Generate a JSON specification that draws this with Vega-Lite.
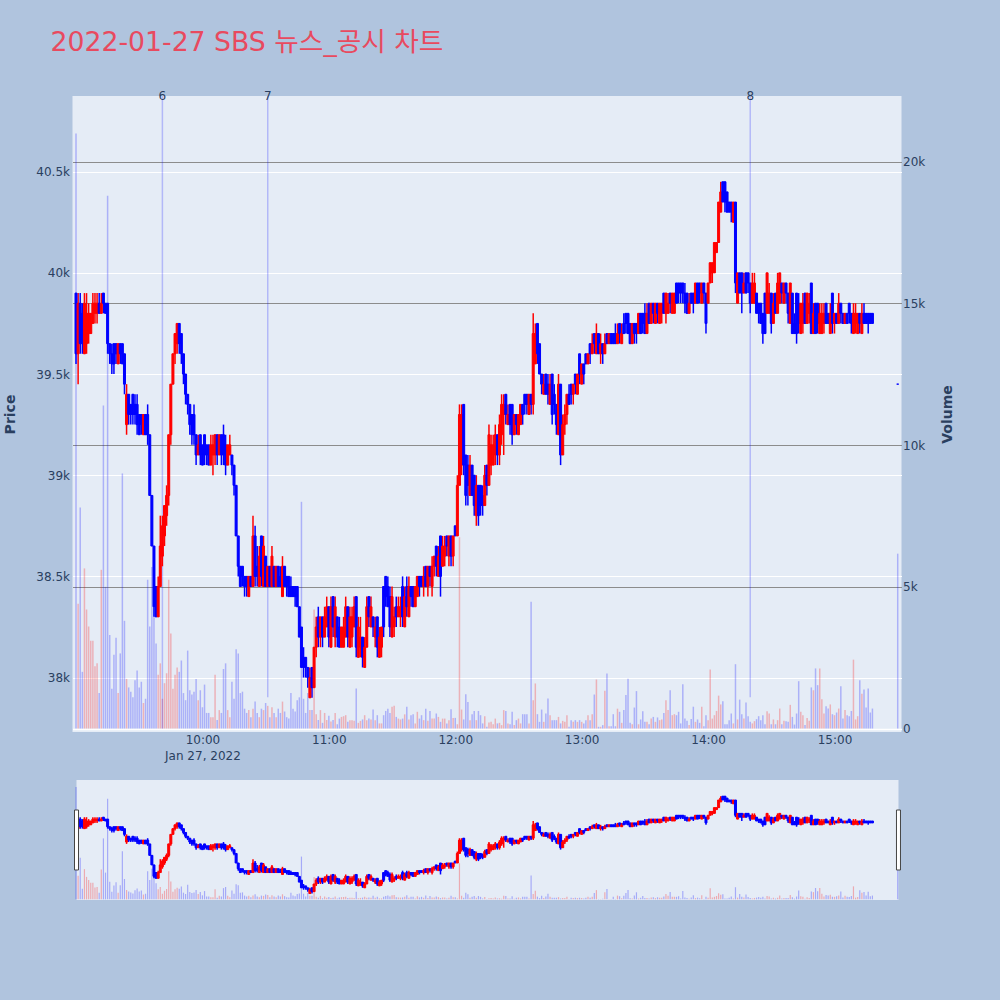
{
"$schema": "https://vega.github.io/schema/vega-lite/v6.json",
"background": "#B0C4DE",
"padding": {"left": 2.5, "top": 30, "right": 50, "bottom": 110},
"title": {"text": "2022-01-27 SBS 뉴스_공시 차트", "anchor": "start", "frame": "group", "dx": -22, "offset": 33, "fontSize": 26.7, "font": "DejaVu Sans, Noto Sans CJK KR", "fontWeight": "normal", "color": "#E84A5F"},
"config": {"font": "DejaVu Sans", "view": {"stroke": null}, "axis": {"domain": false, "ticks": false, "labelFont": "DejaVu Sans", "titleFont": "DejaVu Sans", "labelColor": "#2a3f5f", "titleColor": "#2a3f5f", "labelFontSize": 12}, "text": {"font": "DejaVu Sans"}},
"datasets": {
"ev": [{"n":"6","t":"2022-01-27T09:41","lo":0},{"n":"7","t":"2022-01-27T10:31","lo":1100},{"n":"8","t":"2022-01-27T14:20","lo":1100}],
"k": [
{"t":"2022-01-27T09:00","o":39900,"h":39900,"l":39550,"c":39600,"v":21000},
{"t":"2022-01-27T09:01","o":39600,"h":39900,"l":39450,"c":39850,"v":4400},
{"t":"2022-01-27T09:02","o":39850,"h":39900,"l":39600,"c":39650,"v":7800},
{"t":"2022-01-27T09:03","o":39800,"h":39850,"l":39600,"c":39650,"v":2000},
{"t":"2022-01-27T09:04","o":39600,"h":39900,"l":39600,"c":39850,"v":5650},
{"t":"2022-01-27T09:05","o":39650,"h":39900,"l":39600,"c":39800,"v":4200},
{"t":"2022-01-27T09:06","o":39700,"h":39850,"l":39650,"c":39800,"v":3600},
{"t":"2022-01-27T09:07","o":39700,"h":39800,"l":39700,"c":39800,"v":3100},
{"t":"2022-01-27T09:08","o":39750,"h":39900,"l":39750,"c":39850,"v":3100},
{"t":"2022-01-27T09:09","o":39800,"h":39900,"l":39750,"c":39850,"v":2200},
{"t":"2022-01-27T09:10","o":39800,"h":39900,"l":39750,"c":39850,"v":2300},
{"t":"2022-01-27T09:11","o":39850,"h":39900,"l":39800,"c":39800,"v":1250},
{"t":"2022-01-27T09:12","o":39800,"h":39900,"l":39800,"c":39850,"v":5600},
{"t":"2022-01-27T09:13","o":39900,"h":39900,"l":39800,"c":39850,"v":11400},
{"t":"2022-01-27T09:14","o":39850,"h":39850,"l":39800,"c":39800,"v":5000},
{"t":"2022-01-27T09:15","o":39850,"h":39850,"l":39600,"c":39650,"v":18800},
{"t":"2022-01-27T09:16","o":39650,"h":39650,"l":39550,"c":39600,"v":3300},
{"t":"2022-01-27T09:17","o":39600,"h":39650,"l":39500,"c":39550,"v":1400},
{"t":"2022-01-27T09:18","o":39650,"h":39650,"l":39500,"c":39550,"v":2600},
{"t":"2022-01-27T09:19","o":39650,"h":39650,"l":39550,"c":39600,"v":3200},
{"t":"2022-01-27T09:20","o":39550,"h":39650,"l":39550,"c":39650,"v":1250},
{"t":"2022-01-27T09:21","o":39650,"h":39650,"l":39550,"c":39600,"v":2650},
{"t":"2022-01-27T09:22","o":39650,"h":39650,"l":39550,"c":39550,"v":9000},
{"t":"2022-01-27T09:23","o":39600,"h":39600,"l":39400,"c":39450,"v":3800},
{"t":"2022-01-27T09:24","o":39250,"h":39450,"l":39200,"c":39400,"v":1750},
{"t":"2022-01-27T09:25","o":39400,"h":39400,"l":39250,"c":39300,"v":1450},
{"t":"2022-01-27T09:26","o":39350,"h":39350,"l":39250,"c":39300,"v":1300},
{"t":"2022-01-27T09:27","o":39400,"h":39400,"l":39250,"c":39300,"v":1100},
{"t":"2022-01-27T09:28","o":39350,"h":39400,"l":39250,"c":39300,"v":1700},
{"t":"2022-01-27T09:29","o":39350,"h":39400,"l":39200,"c":39250,"v":2050},
{"t":"2022-01-27T09:30","o":39300,"h":39300,"l":39200,"c":39200,"v":1450},
{"t":"2022-01-27T09:31","o":39300,"h":39300,"l":39200,"c":39250,"v":1650},
{"t":"2022-01-27T09:32","o":39200,"h":39300,"l":39200,"c":39300,"v":900},
{"t":"2022-01-27T09:33","o":39300,"h":39300,"l":39200,"c":39200,"v":1050},
{"t":"2022-01-27T09:34","o":39300,"h":39350,"l":39150,"c":39200,"v":5250},
{"t":"2022-01-27T09:35","o":39200,"h":39200,"l":38900,"c":38900,"v":3600},
{"t":"2022-01-27T09:36","o":38900,"h":38900,"l":38650,"c":38650,"v":5700},
{"t":"2022-01-27T09:37","o":38650,"h":38650,"l":38300,"c":38350,"v":4250},
{"t":"2022-01-27T09:38","o":38450,"h":38450,"l":38300,"c":38300,"v":3000},
{"t":"2022-01-27T09:39","o":38300,"h":38500,"l":38300,"c":38450,"v":1900},
{"t":"2022-01-27T09:40","o":38450,"h":38800,"l":38450,"c":38650,"v":2300},
{"t":"2022-01-27T09:41","o":38600,"h":38800,"l":38550,"c":38750,"v":1050},
{"t":"2022-01-27T09:42","o":38700,"h":38850,"l":38650,"c":38850,"v":1600},
{"t":"2022-01-27T09:43","o":38800,"h":38950,"l":38750,"c":38900,"v":1950},
{"t":"2022-01-27T09:44","o":38900,"h":39200,"l":38850,"c":39200,"v":5250},
{"t":"2022-01-27T09:45","o":39200,"h":39450,"l":39150,"c":39450,"v":3350},
{"t":"2022-01-27T09:46","o":39450,"h":39600,"l":39450,"c":39600,"v":1400},
{"t":"2022-01-27T09:47","o":39600,"h":39700,"l":39550,"c":39700,"v":1900},
{"t":"2022-01-27T09:48","o":39650,"h":39750,"l":39600,"c":39750,"v":2150},
{"t":"2022-01-27T09:49","o":39750,"h":39750,"l":39600,"c":39650,"v":2000},
{"t":"2022-01-27T09:50","o":39700,"h":39700,"l":39550,"c":39600,"v":2400},
{"t":"2022-01-27T09:51","o":39600,"h":39600,"l":39450,"c":39500,"v":1250},
{"t":"2022-01-27T09:52","o":39500,"h":39500,"l":39350,"c":39400,"v":1000},
{"t":"2022-01-27T09:53","o":39400,"h":39400,"l":39300,"c":39350,"v":2750},
{"t":"2022-01-27T09:54","o":39350,"h":39350,"l":39200,"c":39250,"v":1350},
{"t":"2022-01-27T09:55","o":39300,"h":39300,"l":39150,"c":39200,"v":1200},
{"t":"2022-01-27T09:56","o":39300,"h":39350,"l":39150,"c":39200,"v":1300},
{"t":"2022-01-27T09:57","o":39200,"h":39200,"l":39050,"c":39100,"v":1750},
{"t":"2022-01-27T09:58","o":39100,"h":39200,"l":39100,"c":39150,"v":1000},
{"t":"2022-01-27T09:59","o":39200,"h":39200,"l":39050,"c":39100,"v":1350},
{"t":"2022-01-27T10:00","o":39150,"h":39150,"l":39050,"c":39050,"v":750},
{"t":"2022-01-27T10:01","o":39200,"h":39200,"l":39050,"c":39100,"v":1550},
{"t":"2022-01-27T10:02","o":39150,"h":39150,"l":39050,"c":39100,"v":550},
{"t":"2022-01-27T10:03","o":39150,"h":39150,"l":39050,"c":39050,"v":550},
{"t":"2022-01-27T10:04","o":39050,"h":39200,"l":39050,"c":39150,"v":400},
{"t":"2022-01-27T10:05","o":39100,"h":39200,"l":39000,"c":39150,"v":400},
{"t":"2022-01-27T10:06","o":39100,"h":39200,"l":39050,"c":39200,"v":1900},
{"t":"2022-01-27T10:07","o":39200,"h":39200,"l":39050,"c":39100,"v":300},
{"t":"2022-01-27T10:08","o":39100,"h":39200,"l":39100,"c":39200,"v":650},
{"t":"2022-01-27T10:09","o":39200,"h":39200,"l":39050,"c":39100,"v":550},
{"t":"2022-01-27T10:10","o":39200,"h":39250,"l":39050,"c":39100,"v":2100},
{"t":"2022-01-27T10:11","o":39150,"h":39200,"l":39000,"c":39050,"v":2300},
{"t":"2022-01-27T10:12","o":39050,"h":39150,"l":39050,"c":39150,"v":650},
{"t":"2022-01-27T10:13","o":39100,"h":39200,"l":39100,"c":39150,"v":400},
{"t":"2022-01-27T10:14","o":39100,"h":39100,"l":39000,"c":39050,"v":1650},
{"t":"2022-01-27T10:15","o":39050,"h":39050,"l":38900,"c":38950,"v":1050},
{"t":"2022-01-27T10:16","o":38950,"h":38950,"l":38700,"c":38700,"v":2800},
{"t":"2022-01-27T10:17","o":38700,"h":38700,"l":38500,"c":38550,"v":2650},
{"t":"2022-01-27T10:18","o":38550,"h":38550,"l":38450,"c":38450,"v":1250},
{"t":"2022-01-27T10:19","o":38550,"h":38550,"l":38450,"c":38500,"v":1300},
{"t":"2022-01-27T10:20","o":38500,"h":38500,"l":38400,"c":38450,"v":700},
{"t":"2022-01-27T10:21","o":38500,"h":38500,"l":38400,"c":38450,"v":550},
{"t":"2022-01-27T10:22","o":38400,"h":38500,"l":38400,"c":38500,"v":650},
{"t":"2022-01-27T10:23","o":38500,"h":38500,"l":38450,"c":38450,"v":400},
{"t":"2022-01-27T10:24","o":38450,"h":38800,"l":38450,"c":38700,"v":700},
{"t":"2022-01-27T10:25","o":38700,"h":38750,"l":38450,"c":38500,"v":950},
{"t":"2022-01-27T10:26","o":38550,"h":38650,"l":38450,"c":38500,"v":550},
{"t":"2022-01-27T10:27","o":38450,"h":38650,"l":38450,"c":38600,"v":400},
{"t":"2022-01-27T10:28","o":38700,"h":38700,"l":38450,"c":38500,"v":700},
{"t":"2022-01-27T10:29","o":38450,"h":38700,"l":38450,"c":38650,"v":650},
{"t":"2022-01-27T10:30","o":38600,"h":38600,"l":38450,"c":38450,"v":900},
{"t":"2022-01-27T10:31","o":38450,"h":38550,"l":38450,"c":38550,"v":800},
{"t":"2022-01-27T10:32","o":38550,"h":38550,"l":38450,"c":38450,"v":400},
{"t":"2022-01-27T10:33","o":38450,"h":38650,"l":38450,"c":38600,"v":750},
{"t":"2022-01-27T10:34","o":38550,"h":38550,"l":38450,"c":38450,"v":550},
{"t":"2022-01-27T10:35","o":38450,"h":38550,"l":38450,"c":38550,"v":400},
{"t":"2022-01-27T10:36","o":38550,"h":38550,"l":38450,"c":38450,"v":700},
{"t":"2022-01-27T10:37","o":38500,"h":38550,"l":38450,"c":38450,"v":550},
{"t":"2022-01-27T10:38","o":38400,"h":38600,"l":38400,"c":38550,"v":950},
{"t":"2022-01-27T10:39","o":38550,"h":38550,"l":38450,"c":38450,"v":600},
{"t":"2022-01-27T10:40","o":38500,"h":38500,"l":38400,"c":38450,"v":400},
{"t":"2022-01-27T10:41","o":38500,"h":38500,"l":38400,"c":38400,"v":350},
{"t":"2022-01-27T10:42","o":38450,"h":38500,"l":38400,"c":38400,"v":1250},
{"t":"2022-01-27T10:43","o":38450,"h":38450,"l":38400,"c":38400,"v":700},
{"t":"2022-01-27T10:44","o":38450,"h":38450,"l":38350,"c":38400,"v":600},
{"t":"2022-01-27T10:45","o":38450,"h":38450,"l":38350,"c":38350,"v":1000},
{"t":"2022-01-27T10:46","o":38350,"h":38350,"l":38200,"c":38200,"v":1100},
{"t":"2022-01-27T10:47","o":38250,"h":38250,"l":38050,"c":38050,"v":8000},
{"t":"2022-01-27T10:48","o":38100,"h":38150,"l":38000,"c":38050,"v":1050},
{"t":"2022-01-27T10:49","o":38100,"h":38100,"l":38000,"c":38050,"v":550},
{"t":"2022-01-27T10:50","o":38050,"h":38050,"l":37950,"c":38000,"v":1250},
{"t":"2022-01-27T10:51","o":37900,"h":38050,"l":37900,"c":38000,"v":650},
{"t":"2022-01-27T10:52","o":38050,"h":38050,"l":37900,"c":37950,"v":650},
{"t":"2022-01-27T10:53","o":37950,"h":38150,"l":37950,"c":38150,"v":4200},
{"t":"2022-01-27T10:54","o":38150,"h":38300,"l":38100,"c":38250,"v":500},
{"t":"2022-01-27T10:55","o":38300,"h":38350,"l":38150,"c":38200,"v":300},
{"t":"2022-01-27T10:56","o":38200,"h":38300,"l":38150,"c":38300,"v":650},
{"t":"2022-01-27T10:57","o":38300,"h":38300,"l":38150,"c":38200,"v":200},
{"t":"2022-01-27T10:58","o":38200,"h":38350,"l":38200,"c":38300,"v":550},
{"t":"2022-01-27T10:59","o":38250,"h":38400,"l":38250,"c":38350,"v":300},
{"t":"2022-01-27T11:00","o":38350,"h":38350,"l":38150,"c":38200,"v":450},
{"t":"2022-01-27T11:01","o":38150,"h":38400,"l":38150,"c":38350,"v":250},
{"t":"2022-01-27T11:02","o":38400,"h":38400,"l":38200,"c":38250,"v":300},
{"t":"2022-01-27T11:03","o":38200,"h":38400,"l":38150,"c":38350,"v":550},
{"t":"2022-01-27T11:04","o":38300,"h":38300,"l":38150,"c":38200,"v":150},
{"t":"2022-01-27T11:05","o":38250,"h":38300,"l":38150,"c":38150,"v":350},
{"t":"2022-01-27T11:06","o":38150,"h":38250,"l":38150,"c":38250,"v":410},
{"t":"2022-01-27T11:07","o":38150,"h":38300,"l":38150,"c":38250,"v":435},
{"t":"2022-01-27T11:08","o":38200,"h":38400,"l":38200,"c":38350,"v":470},
{"t":"2022-01-27T11:09","o":38350,"h":38350,"l":38150,"c":38200,"v":235},
{"t":"2022-01-27T11:10","o":38150,"h":38350,"l":38150,"c":38300,"v":295},
{"t":"2022-01-27T11:11","o":38200,"h":38350,"l":38150,"c":38300,"v":295},
{"t":"2022-01-27T11:12","o":38250,"h":38400,"l":38250,"c":38350,"v":270},
{"t":"2022-01-27T11:13","o":38400,"h":38400,"l":38100,"c":38150,"v":1410},
{"t":"2022-01-27T11:14","o":38100,"h":38300,"l":38100,"c":38250,"v":200},
{"t":"2022-01-27T11:15","o":38150,"h":38300,"l":38100,"c":38200,"v":270},
{"t":"2022-01-27T11:16","o":38200,"h":38200,"l":38050,"c":38100,"v":320},
{"t":"2022-01-27T11:17","o":38050,"h":38200,"l":38050,"c":38150,"v":470},
{"t":"2022-01-27T11:18","o":38150,"h":38400,"l":38150,"c":38350,"v":295},
{"t":"2022-01-27T11:19","o":38400,"h":38400,"l":38250,"c":38300,"v":350},
{"t":"2022-01-27T11:20","o":38250,"h":38400,"l":38250,"c":38350,"v":320},
{"t":"2022-01-27T11:21","o":38300,"h":38300,"l":38200,"c":38250,"v":670},
{"t":"2022-01-27T11:22","o":38200,"h":38300,"l":38150,"c":38250,"v":295},
{"t":"2022-01-27T11:23","o":38300,"h":38300,"l":38100,"c":38150,"v":470},
{"t":"2022-01-27T11:24","o":38100,"h":38250,"l":38100,"c":38200,"v":180},
{"t":"2022-01-27T11:25","o":38150,"h":38250,"l":38100,"c":38250,"v":180},
{"t":"2022-01-27T11:26","o":38450,"h":38450,"l":38200,"c":38250,"v":470},
{"t":"2022-01-27T11:27","o":38500,"h":38500,"l":38350,"c":38400,"v":620},
{"t":"2022-01-27T11:28","o":38450,"h":38500,"l":38350,"c":38350,"v":700},
{"t":"2022-01-27T11:29","o":38400,"h":38450,"l":38200,"c":38250,"v":550},
{"t":"2022-01-27T11:30","o":38200,"h":38450,"l":38200,"c":38400,"v":770},
{"t":"2022-01-27T11:31","o":38250,"h":38350,"l":38200,"c":38300,"v":800},
{"t":"2022-01-27T11:32","o":38350,"h":38400,"l":38250,"c":38300,"v":410},
{"t":"2022-01-27T11:33","o":38300,"h":38400,"l":38300,"c":38350,"v":350},
{"t":"2022-01-27T11:34","o":38300,"h":38400,"l":38250,"c":38350,"v":320},
{"t":"2022-01-27T11:35","o":38450,"h":38500,"l":38250,"c":38300,"v":350},
{"t":"2022-01-27T11:36","o":38250,"h":38450,"l":38250,"c":38400,"v":500},
{"t":"2022-01-27T11:37","o":38450,"h":38500,"l":38300,"c":38350,"v":770},
{"t":"2022-01-27T11:38","o":38300,"h":38500,"l":38300,"c":38450,"v":320},
{"t":"2022-01-27T11:39","o":38450,"h":38450,"l":38350,"c":38400,"v":470},
{"t":"2022-01-27T11:40","o":38450,"h":38450,"l":38350,"c":38350,"v":500},
{"t":"2022-01-27T11:41","o":38350,"h":38450,"l":38350,"c":38450,"v":180},
{"t":"2022-01-27T11:42","o":38400,"h":38500,"l":38400,"c":38500,"v":590},
{"t":"2022-01-27T11:43","o":38500,"h":38500,"l":38400,"c":38450,"v":350},
{"t":"2022-01-27T11:44","o":38500,"h":38500,"l":38450,"c":38450,"v":470},
{"t":"2022-01-27T11:45","o":38450,"h":38550,"l":38400,"c":38500,"v":295},
{"t":"2022-01-27T11:46","o":38550,"h":38550,"l":38450,"c":38450,"v":700},
{"t":"2022-01-27T11:47","o":38450,"h":38550,"l":38400,"c":38550,"v":270},
{"t":"2022-01-27T11:48","o":38550,"h":38550,"l":38450,"c":38500,"v":620},
{"t":"2022-01-27T11:49","o":38450,"h":38600,"l":38400,"c":38550,"v":350},
{"t":"2022-01-27T11:50","o":38550,"h":38600,"l":38500,"c":38600,"v":350},
{"t":"2022-01-27T11:51","o":38650,"h":38650,"l":38500,"c":38550,"v":530},
{"t":"2022-01-27T11:52","o":38500,"h":38650,"l":38500,"c":38600,"v":410},
{"t":"2022-01-27T11:53","o":38700,"h":38700,"l":38400,"c":38500,"v":235},
{"t":"2022-01-27T11:54","o":38550,"h":38700,"l":38550,"c":38650,"v":350},
{"t":"2022-01-27T11:55","o":38600,"h":38700,"l":38550,"c":38650,"v":350},
{"t":"2022-01-27T11:56","o":38700,"h":38700,"l":38600,"c":38650,"v":180},
{"t":"2022-01-27T11:57","o":38600,"h":38700,"l":38550,"c":38700,"v":295},
{"t":"2022-01-27T11:58","o":38700,"h":38700,"l":38550,"c":38600,"v":680},
{"t":"2022-01-27T11:59","o":38600,"h":38700,"l":38550,"c":38700,"v":375},
{"t":"2022-01-27T12:00","o":38750,"h":38750,"l":38700,"c":38700,"v":375},
{"t":"2022-01-27T12:01","o":38700,"h":39000,"l":38700,"c":38950,"v":150},
{"t":"2022-01-27T12:02","o":38950,"h":39350,"l":38950,"c":39300,"v":6750},
{"t":"2022-01-27T12:03","o":39050,"h":39350,"l":39000,"c":39300,"v":670},
{"t":"2022-01-27T12:04","o":39350,"h":39350,"l":39000,"c":39050,"v":320},
{"t":"2022-01-27T12:05","o":39100,"h":39100,"l":38850,"c":38900,"v":1210},
{"t":"2022-01-27T12:06","o":39050,"h":39100,"l":38850,"c":38950,"v":940},
{"t":"2022-01-27T12:07","o":38900,"h":39100,"l":38900,"c":39050,"v":295},
{"t":"2022-01-27T12:08","o":39050,"h":39050,"l":38900,"c":38900,"v":505},
{"t":"2022-01-27T12:09","o":39000,"h":39000,"l":38800,"c":38850,"v":620},
{"t":"2022-01-27T12:10","o":38800,"h":39000,"l":38750,"c":38950,"v":295},
{"t":"2022-01-27T12:11","o":38950,"h":38950,"l":38750,"c":38800,"v":620},
{"t":"2022-01-27T12:12","o":38950,"h":38950,"l":38800,"c":38850,"v":470},
{"t":"2022-01-27T12:13","o":38900,"h":38950,"l":38800,"c":38850,"v":180},
{"t":"2022-01-27T12:14","o":38850,"h":39050,"l":38850,"c":39000,"v":435},
{"t":"2022-01-27T12:15","o":39050,"h":39050,"l":38900,"c":38950,"v":60},
{"t":"2022-01-27T12:16","o":38950,"h":39250,"l":38950,"c":39200,"v":210},
{"t":"2022-01-27T12:17","o":39050,"h":39200,"l":39000,"c":39150,"v":235},
{"t":"2022-01-27T12:18","o":39050,"h":39200,"l":39050,"c":39150,"v":150},
{"t":"2022-01-27T12:19","o":39100,"h":39250,"l":39050,"c":39200,"v":350},
{"t":"2022-01-27T12:20","o":39200,"h":39200,"l":39050,"c":39100,"v":180},
{"t":"2022-01-27T12:21","o":39100,"h":39300,"l":39050,"c":39250,"v":200},
{"t":"2022-01-27T12:22","o":39200,"h":39400,"l":39150,"c":39350,"v":120},
{"t":"2022-01-27T12:23","o":39300,"h":39400,"l":39100,"c":39350,"v":650},
{"t":"2022-01-27T12:24","o":39400,"h":39400,"l":39250,"c":39300,"v":620},
{"t":"2022-01-27T12:25","o":39250,"h":39350,"l":39250,"c":39300,"v":180},
{"t":"2022-01-27T12:26","o":39350,"h":39350,"l":39200,"c":39250,"v":150},
{"t":"2022-01-27T12:27","o":39350,"h":39350,"l":39150,"c":39200,"v":590},
{"t":"2022-01-27T12:28","o":39200,"h":39300,"l":39200,"c":39300,"v":120},
{"t":"2022-01-27T12:29","o":39300,"h":39300,"l":39200,"c":39250,"v":295},
{"t":"2022-01-27T12:30","o":39200,"h":39300,"l":39200,"c":39300,"v":350},
{"t":"2022-01-27T12:31","o":39250,"h":39350,"l":39250,"c":39350,"v":180},
{"t":"2022-01-27T12:32","o":39350,"h":39350,"l":39250,"c":39300,"v":505},
{"t":"2022-01-27T12:33","o":39400,"h":39400,"l":39300,"c":39350,"v":505},
{"t":"2022-01-27T12:34","o":39400,"h":39400,"l":39300,"c":39350,"v":505},
{"t":"2022-01-27T12:35","o":39300,"h":39400,"l":39300,"c":39400,"v":180},
{"t":"2022-01-27T12:36","o":39400,"h":39400,"l":39300,"c":39350,"v":4470},
{"t":"2022-01-27T12:37","o":39350,"h":39800,"l":39300,"c":39700,"v":1000},
{"t":"2022-01-27T12:38","o":39550,"h":39750,"l":39550,"c":39700,"v":1590},
{"t":"2022-01-27T12:39","o":39750,"h":39750,"l":39550,"c":39600,"v":505},
{"t":"2022-01-27T12:40","o":39650,"h":39650,"l":39500,"c":39500,"v":235},
{"t":"2022-01-27T12:41","o":39500,"h":39500,"l":39400,"c":39450,"v":670},
{"t":"2022-01-27T12:42","o":39400,"h":39500,"l":39400,"c":39450,"v":235},
{"t":"2022-01-27T12:43","o":39500,"h":39500,"l":39400,"c":39400,"v":530},
{"t":"2022-01-27T12:44","o":39450,"h":39500,"l":39350,"c":39400,"v":1060},
{"t":"2022-01-27T12:45","o":39350,"h":39500,"l":39350,"c":39450,"v":470},
{"t":"2022-01-27T12:46","o":39500,"h":39500,"l":39250,"c":39300,"v":295},
{"t":"2022-01-27T12:47","o":39400,"h":39450,"l":39300,"c":39350,"v":295},
{"t":"2022-01-27T12:48","o":39350,"h":39350,"l":39200,"c":39250,"v":295},
{"t":"2022-01-27T12:49","o":39200,"h":39500,"l":39200,"c":39450,"v":410},
{"t":"2022-01-27T12:50","o":39450,"h":39450,"l":39050,"c":39100,"v":180},
{"t":"2022-01-27T12:51","o":39100,"h":39300,"l":39100,"c":39250,"v":270},
{"t":"2022-01-27T12:52","o":39250,"h":39350,"l":39200,"c":39300,"v":235},
{"t":"2022-01-27T12:53","o":39300,"h":39400,"l":39250,"c":39400,"v":470},
{"t":"2022-01-27T12:54","o":39400,"h":39450,"l":39350,"c":39350,"v":60},
{"t":"2022-01-27T12:55","o":39450,"h":39450,"l":39350,"c":39400,"v":295},
{"t":"2022-01-27T12:56","o":39400,"h":39450,"l":39350,"c":39450,"v":235},
{"t":"2022-01-27T12:57","o":39500,"h":39500,"l":39400,"c":39450,"v":295},
{"t":"2022-01-27T12:58","o":39400,"h":39500,"l":39400,"c":39500,"v":235},
{"t":"2022-01-27T12:59","o":39600,"h":39600,"l":39450,"c":39500,"v":295},
{"t":"2022-01-27T13:00","o":39450,"h":39550,"l":39450,"c":39550,"v":235},
{"t":"2022-01-27T13:01","o":39550,"h":39550,"l":39450,"c":39500,"v":180},
{"t":"2022-01-27T13:02","o":39600,"h":39600,"l":39550,"c":39550,"v":295},
{"t":"2022-01-27T13:03","o":39550,"h":39600,"l":39550,"c":39600,"v":470},
{"t":"2022-01-27T13:04","o":39650,"h":39650,"l":39550,"c":39600,"v":295},
{"t":"2022-01-27T13:05","o":39600,"h":39700,"l":39600,"c":39650,"v":505},
{"t":"2022-01-27T13:06","o":39700,"h":39700,"l":39600,"c":39650,"v":1200},
{"t":"2022-01-27T13:07","o":39600,"h":39750,"l":39600,"c":39700,"v":1730},
{"t":"2022-01-27T13:08","o":39700,"h":39700,"l":39600,"c":39600,"v":60},
{"t":"2022-01-27T13:09","o":39600,"h":39700,"l":39550,"c":39650,"v":60},
{"t":"2022-01-27T13:10","o":39650,"h":39650,"l":39550,"c":39600,"v":120},
{"t":"2022-01-27T13:11","o":39600,"h":39700,"l":39600,"c":39650,"v":1330},
{"t":"2022-01-27T13:12","o":39700,"h":39700,"l":39650,"c":39650,"v":1940},
{"t":"2022-01-27T13:13","o":39650,"h":39700,"l":39650,"c":39700,"v":80},
{"t":"2022-01-27T13:14","o":39700,"h":39700,"l":39650,"c":39650,"v":80},
{"t":"2022-01-27T13:15","o":39700,"h":39700,"l":39650,"c":39650,"v":505},
{"t":"2022-01-27T13:16","o":39700,"h":39750,"l":39650,"c":39650,"v":80},
{"t":"2022-01-27T13:17","o":39650,"h":39750,"l":39650,"c":39700,"v":700},
{"t":"2022-01-27T13:18","o":39750,"h":39750,"l":39650,"c":39700,"v":590},
{"t":"2022-01-27T13:19","o":39650,"h":39750,"l":39650,"c":39700,"v":200},
{"t":"2022-01-27T13:20","o":39750,"h":39800,"l":39700,"c":39700,"v":650},
{"t":"2022-01-27T13:21","o":39800,"h":39800,"l":39700,"c":39750,"v":1180},
{"t":"2022-01-27T13:22","o":39800,"h":39800,"l":39700,"c":39700,"v":1760},
{"t":"2022-01-27T13:23","o":39750,"h":39750,"l":39650,"c":39650,"v":200},
{"t":"2022-01-27T13:24","o":39650,"h":39750,"l":39650,"c":39750,"v":150},
{"t":"2022-01-27T13:25","o":39750,"h":39750,"l":39650,"c":39700,"v":740},
{"t":"2022-01-27T13:26","o":39750,"h":39750,"l":39650,"c":39700,"v":1320},
{"t":"2022-01-27T13:27","o":39700,"h":39800,"l":39700,"c":39800,"v":150},
{"t":"2022-01-27T13:28","o":39800,"h":39800,"l":39700,"c":39700,"v":320},
{"t":"2022-01-27T13:29","o":39800,"h":39800,"l":39700,"c":39750,"v":610},
{"t":"2022-01-27T13:30","o":39800,"h":39850,"l":39700,"c":39700,"v":235},
{"t":"2022-01-27T13:31","o":39700,"h":39850,"l":39700,"c":39800,"v":235},
{"t":"2022-01-27T13:32","o":39850,"h":39850,"l":39750,"c":39750,"v":150},
{"t":"2022-01-27T13:33","o":39750,"h":39850,"l":39750,"c":39850,"v":350},
{"t":"2022-01-27T13:34","o":39850,"h":39850,"l":39750,"c":39800,"v":410},
{"t":"2022-01-27T13:35","o":39750,"h":39850,"l":39750,"c":39850,"v":235},
{"t":"2022-01-27T13:36","o":39850,"h":39850,"l":39750,"c":39800,"v":390},
{"t":"2022-01-27T13:37","o":39750,"h":39850,"l":39750,"c":39850,"v":295},
{"t":"2022-01-27T13:38","o":39800,"h":39850,"l":39750,"c":39850,"v":320},
{"t":"2022-01-27T13:39","o":39900,"h":39900,"l":39800,"c":39800,"v":550},
{"t":"2022-01-27T13:40","o":39800,"h":39900,"l":39750,"c":39900,"v":1000},
{"t":"2022-01-27T13:41","o":39800,"h":39900,"l":39800,"c":39850,"v":650},
{"t":"2022-01-27T13:42","o":39900,"h":39900,"l":39800,"c":39850,"v":1350},
{"t":"2022-01-27T13:43","o":39800,"h":39900,"l":39800,"c":39900,"v":470},
{"t":"2022-01-27T13:44","o":39800,"h":39900,"l":39800,"c":39900,"v":505},
{"t":"2022-01-27T13:45","o":39950,"h":39950,"l":39850,"c":39850,"v":470},
{"t":"2022-01-27T13:46","o":39950,"h":39950,"l":39850,"c":39900,"v":590},
{"t":"2022-01-27T13:47","o":39950,"h":39950,"l":39850,"c":39900,"v":180},
{"t":"2022-01-27T13:48","o":39950,"h":39950,"l":39850,"c":39900,"v":1560},
{"t":"2022-01-27T13:49","o":39900,"h":39950,"l":39800,"c":39850,"v":350},
{"t":"2022-01-27T13:50","o":39900,"h":39900,"l":39800,"c":39800,"v":270},
{"t":"2022-01-27T13:51","o":39800,"h":39900,"l":39800,"c":39850,"v":120},
{"t":"2022-01-27T13:52","o":39900,"h":39900,"l":39850,"c":39850,"v":340},
{"t":"2022-01-27T13:53","o":39900,"h":39900,"l":39800,"c":39850,"v":770},
{"t":"2022-01-27T13:54","o":39850,"h":39950,"l":39850,"c":39950,"v":235},
{"t":"2022-01-27T13:55","o":39950,"h":39950,"l":39850,"c":39850,"v":320},
{"t":"2022-01-27T13:56","o":39950,"h":39950,"l":39850,"c":39900,"v":200},
{"t":"2022-01-27T13:57","o":39850,"h":39950,"l":39850,"c":39950,"v":770},
{"t":"2022-01-27T13:58","o":39950,"h":39950,"l":39850,"c":39900,"v":80},
{"t":"2022-01-27T13:59","o":39900,"h":39900,"l":39700,"c":39750,"v":470},
{"t":"2022-01-27T14:00","o":39850,"h":39950,"l":39850,"c":39950,"v":295},
{"t":"2022-01-27T14:01","o":39950,"h":40050,"l":39950,"c":40050,"v":2080},
{"t":"2022-01-27T14:02","o":40000,"h":40050,"l":39950,"c":40050,"v":350},
{"t":"2022-01-27T14:03","o":40000,"h":40150,"l":40000,"c":40150,"v":470},
{"t":"2022-01-27T14:04","o":40100,"h":40150,"l":40100,"c":40150,"v":620},
{"t":"2022-01-27T14:05","o":40150,"h":40350,"l":40150,"c":40350,"v":1160},
{"t":"2022-01-27T14:06","o":40300,"h":40450,"l":40300,"c":40400,"v":850},
{"t":"2022-01-27T14:07","o":40450,"h":40450,"l":40350,"c":40350,"v":960},
{"t":"2022-01-27T14:08","o":40450,"h":40450,"l":40300,"c":40350,"v":150},
{"t":"2022-01-27T14:09","o":40400,"h":40400,"l":40300,"c":40300,"v":150},
{"t":"2022-01-27T14:10","o":40350,"h":40350,"l":40300,"c":40300,"v":295},
{"t":"2022-01-27T14:11","o":40350,"h":40350,"l":40250,"c":40300,"v":530},
{"t":"2022-01-27T14:12","o":40250,"h":40350,"l":40250,"c":40350,"v":180},
{"t":"2022-01-27T14:13","o":40350,"h":40350,"l":39900,"c":39950,"v":2270},
{"t":"2022-01-27T14:14","o":39850,"h":40000,"l":39850,"c":40000,"v":320},
{"t":"2022-01-27T14:15","o":40000,"h":40000,"l":39900,"c":39900,"v":1020},
{"t":"2022-01-27T14:16","o":40000,"h":40000,"l":39800,"c":39900,"v":505},
{"t":"2022-01-27T14:17","o":39900,"h":40000,"l":39900,"c":39950,"v":350},
{"t":"2022-01-27T14:18","o":40000,"h":40000,"l":39900,"c":39900,"v":920},
{"t":"2022-01-27T14:19","o":40000,"h":40000,"l":39900,"c":39950,"v":435},
{"t":"2022-01-27T14:20","o":39950,"h":39950,"l":39800,"c":39850,"v":235},
{"t":"2022-01-27T14:21","o":39850,"h":40000,"l":39850,"c":39950,"v":180},
{"t":"2022-01-27T14:22","o":39850,"h":40000,"l":39850,"c":39950,"v":260},
{"t":"2022-01-27T14:23","o":39900,"h":39900,"l":39800,"c":39800,"v":330},
{"t":"2022-01-27T14:24","o":39850,"h":39850,"l":39750,"c":39800,"v":435},
{"t":"2022-01-27T14:25","o":39850,"h":39850,"l":39750,"c":39750,"v":295},
{"t":"2022-01-27T14:26","o":39800,"h":39800,"l":39650,"c":39700,"v":470},
{"t":"2022-01-27T14:27","o":39900,"h":39900,"l":39700,"c":39700,"v":150},
{"t":"2022-01-27T14:28","o":39800,"h":40000,"l":39800,"c":40000,"v":610},
{"t":"2022-01-27T14:29","o":39800,"h":39950,"l":39800,"c":39900,"v":530},
{"t":"2022-01-27T14:30","o":39900,"h":39900,"l":39700,"c":39750,"v":150},
{"t":"2022-01-27T14:31","o":39750,"h":39900,"l":39750,"c":39850,"v":320},
{"t":"2022-01-27T14:32","o":39900,"h":39900,"l":39800,"c":39800,"v":150},
{"t":"2022-01-27T14:33","o":39800,"h":40000,"l":39800,"c":39950,"v":295},
{"t":"2022-01-27T14:34","o":39850,"h":40000,"l":39850,"c":40000,"v":705},
{"t":"2022-01-27T14:35","o":39950,"h":39950,"l":39850,"c":39900,"v":150},
{"t":"2022-01-27T14:36","o":39850,"h":39950,"l":39850,"c":39950,"v":270},
{"t":"2022-01-27T14:37","o":39950,"h":39950,"l":39850,"c":39900,"v":260},
{"t":"2022-01-27T14:38","o":39900,"h":39900,"l":39750,"c":39800,"v":235},
{"t":"2022-01-27T14:39","o":39750,"h":39950,"l":39750,"c":39950,"v":835},
{"t":"2022-01-27T14:40","o":39900,"h":39900,"l":39700,"c":39700,"v":410},
{"t":"2022-01-27T14:41","o":39750,"h":39800,"l":39700,"c":39700,"v":140},
{"t":"2022-01-27T14:42","o":39900,"h":39900,"l":39650,"c":39700,"v":530},
{"t":"2022-01-27T14:43","o":39850,"h":39900,"l":39700,"c":39750,"v":1670},
{"t":"2022-01-27T14:44","o":39700,"h":39850,"l":39700,"c":39850,"v":590},
{"t":"2022-01-27T14:45","o":39750,"h":39900,"l":39700,"c":39850,"v":470},
{"t":"2022-01-27T14:46","o":39900,"h":39900,"l":39750,"c":39750,"v":120},
{"t":"2022-01-27T14:47","o":39750,"h":39900,"l":39750,"c":39900,"v":375},
{"t":"2022-01-27T14:48","o":39800,"h":39900,"l":39750,"c":39850,"v":270},
{"t":"2022-01-27T14:49","o":39950,"h":39950,"l":39700,"c":39700,"v":1450},
{"t":"2022-01-27T14:50","o":39700,"h":39850,"l":39700,"c":39800,"v":1350},
{"t":"2022-01-27T14:51","o":39850,"h":39850,"l":39700,"c":39700,"v":2120},
{"t":"2022-01-27T14:52","o":39850,"h":39850,"l":39700,"c":39750,"v":1530},
{"t":"2022-01-27T14:53","o":39700,"h":39850,"l":39700,"c":39800,"v":2120},
{"t":"2022-01-27T14:54","o":39700,"h":39850,"l":39700,"c":39800,"v":1030},
{"t":"2022-01-27T14:55","o":39750,"h":39850,"l":39700,"c":39800,"v":530},
{"t":"2022-01-27T14:56","o":39850,"h":39850,"l":39750,"c":39750,"v":790},
{"t":"2022-01-27T14:57","o":39800,"h":39800,"l":39750,"c":39750,"v":705},
{"t":"2022-01-27T14:58","o":39700,"h":39850,"l":39700,"c":39800,"v":850},
{"t":"2022-01-27T14:59","o":39900,"h":39900,"l":39700,"c":39750,"v":505},
{"t":"2022-01-27T15:00","o":39750,"h":39800,"l":39700,"c":39800,"v":470},
{"t":"2022-01-27T15:01","o":39800,"h":39800,"l":39750,"c":39750,"v":565},
{"t":"2022-01-27T15:02","o":39750,"h":39900,"l":39750,"c":39850,"v":705},
{"t":"2022-01-27T15:03","o":39850,"h":39850,"l":39750,"c":39800,"v":1490},
{"t":"2022-01-27T15:04","o":39800,"h":39800,"l":39750,"c":39750,"v":350},
{"t":"2022-01-27T15:05","o":39750,"h":39800,"l":39750,"c":39800,"v":650},
{"t":"2022-01-27T15:06","o":39800,"h":39800,"l":39750,"c":39750,"v":470},
{"t":"2022-01-27T15:07","o":39850,"h":39850,"l":39750,"c":39800,"v":435},
{"t":"2022-01-27T15:08","o":39800,"h":39800,"l":39700,"c":39750,"v":620},
{"t":"2022-01-27T15:09","o":39700,"h":39850,"l":39700,"c":39800,"v":2430},
{"t":"2022-01-27T15:10","o":39750,"h":39850,"l":39700,"c":39800,"v":320},
{"t":"2022-01-27T15:11","o":39700,"h":39800,"l":39700,"c":39800,"v":435},
{"t":"2022-01-27T15:12","o":39800,"h":39800,"l":39700,"c":39750,"v":1700},
{"t":"2022-01-27T15:13","o":39700,"h":39850,"l":39700,"c":39800,"v":1230},
{"t":"2022-01-27T15:14","o":39800,"h":39850,"l":39750,"c":39750,"v":1380},
{"t":"2022-01-27T15:15","o":39800,"h":39800,"l":39750,"c":39750,"v":740},
{"t":"2022-01-27T15:16","o":39800,"h":39800,"l":39700,"c":39750,"v":1410},
{"t":"2022-01-27T15:17","o":39800,"h":39800,"l":39750,"c":39750,"v":565},
{"t":"2022-01-27T15:18","o":39800,"h":39800,"l":39750,"c":39750,"v":705},
{"t":"2022-01-27T15:30","o":39450,"h":39450,"l":39450,"c":39450,"v":6170}
]},
"spacing": 48,
"bounds": "flush",
"vconcat": [
{
"width": 829, "height": 636,
"view": {"fill": "#E5ECF6", "stroke": null},
"layer": [
{"layer": [
{"data": {"name": "k"},
 "mark": {"type": "rule", "strokeWidth": 1.5, "opacity": 0.25},
 "encoding": {
  "x": {"field": "t", "type": "temporal", "title": null,
        "scale": {"padding": 0, "domain": [{"year":2022,"month":1,"date":27,"hours":8,"minutes":58,"seconds":20},{"year":2022,"month":1,"date":27,"hours":15,"minutes":31,"seconds":48}]},
        "axis": {"values": [{"year":2022,"month":1,"date":27,"hours":10},{"year":2022,"month":1,"date":27,"hours":11},{"year":2022,"month":1,"date":27,"hours":12},{"year":2022,"month":1,"date":27,"hours":13},{"year":2022,"month":1,"date":27,"hours":14},{"year":2022,"month":1,"date":27,"hours":15}],
                 "labelExpr": "hours(datum.value) == 10 ? [timeFormat(datum.value, '%H:%M'), timeFormat(datum.value, '%b %d, %Y')] : timeFormat(datum.value, '%H:%M')",
                 "grid": false, "labelPadding": 2, "labelLineHeight": 16.5, "labelFlush": false, "labelOverlap": false}},
  "y": {"field": "v", "type": "quantitative", "title": "Volume",
        "scale": {"domain": [-123, 22320], "nice": false, "zero": false},
        "axis": {"orient": "right", "values": [0, 5000, 10000, 15000, 20000],
                 "labelExpr": "datum.value == 0 ? '0' : (datum.value / 1000) + 'k'",
                 "grid": true,
                 "gridColor": {"condition": {"test": "datum.value === 0", "value": "#FFFFFF"}, "value": "#8c8c8c"},
                 "gridWidth": {"condition": {"test": "datum.value === 0", "value": 1.5}, "value": 1},
                 "labelPadding": 1, "titleX": 45.5, "titleY": 318, "titleAngle": 270, "titleAlign": "center", "titleBaseline": "middle", "titleFontSize": 14, "titleFontWeight": "bold"}},
  "y2": {"datum": 0},
  "color": {"condition": {"test": "datum.c > datum.o", "value": "#FF0000"}, "value": "#0000FF"}
 }},
{"data": {"name": "ev"},
 "mark": {"type": "rule", "color": "#0000FF", "opacity": 0.22, "strokeWidth": 1.5},
 "encoding": {
  "x": {"field": "t", "type": "temporal"},
  "y": {"field": "lo", "type": "quantitative", "title": "Volume"},
  "y2": {"datum": 22320}
 }},
{"data": {"name": "ev"},
 "mark": {"type": "text", "color": "#2a3f5f", "fontSize": 12, "baseline": "middle", "align": "center", "font": "DejaVu Sans"},
 "encoding": {
  "x": {"field": "t", "type": "temporal"},
  "y": {"datum": 22320},
  "text": {"field": "n"}
 }}
]},
{"data": {"name": "k"},
 "layer": [
 {"mark": {"type": "rule", "strokeWidth": 1.5},
  "encoding": {
   "x": {"field": "t", "type": "temporal"},
   "y": {"field": "l", "type": "quantitative", "title": "Price",
         "scale": {"domain": [37731, 40874], "nice": false, "zero": false},
         "axis": {"values": [38000, 38500, 39000, 39500, 40000, 40500],
                  "labelExpr": "(datum.value / 1000) + 'k'",
                  "grid": true, "gridColor": "#FFFFFF", "gridWidth": 1,
                  "labelPadding": 3, "titleX": -62.5, "titleY": 318, "titleAngle": 270, "titleAlign": "center", "titleBaseline": "middle", "titleFontSize": 14, "titleFontWeight": "bold"}},
   "y2": {"field": "h"},
   "color": {"condition": {"test": "datum.c > datum.o", "value": "#FF0000"}, "value": "#0000FF"}
  }},
 {"mark": {"type": "bar", "width": 2, "strokeWidth": 1},
  "encoding": {
   "x": {"field": "t", "type": "temporal"},
   "y": {"field": "o", "type": "quantitative", "title": "Price"},
   "y2": {"field": "c"},
   "fill": {"condition": {"test": "datum.c > datum.o", "value": "#FF0000"}, "value": "#0000FF"},
   "stroke": {"condition": {"test": "datum.c > datum.o", "value": "#FF0000"}, "value": "#0000FF"}
  }}
 ]}
],
"resolve": {"scale": {"y": "independent"}, "axis": {"y": "independent"}}
},
{
"width": 829, "height": 120,
"view": {"fill": null, "stroke": null},
"layer": [
{"data": {"values": [{}]},
 "mark": {"type": "rect", "color": "#E5ECF6"},
 "encoding": {
  "x": {"datum": {"year":2022,"month":1,"date":27,"hours":9,"minutes":0,"seconds":14}, "type": "temporal",
        "scale": {"padding": 0, "domain": [{"year":2022,"month":1,"date":27,"hours":8,"minutes":58,"seconds":20},{"year":2022,"month":1,"date":27,"hours":15,"minutes":31,"seconds":48}]}, "axis": null},
  "x2": {"datum": {"year":2022,"month":1,"date":27,"hours":15,"minutes":30,"seconds":22}},
  "y": {"datum": 37731, "type": "quantitative", "scale": {"domain": [37731, 40874], "nice": false, "zero": false}, "axis": null},
  "y2": {"datum": 40874}
 }},
{"data": {"name": "k"},
 "mark": {"type": "rule", "strokeWidth": 1.2, "opacity": 0.28},
 "encoding": {
  "x": {"field": "t", "type": "temporal", "axis": null},
  "y": {"field": "v", "type": "quantitative", "scale": {"domain": [-123, 22320], "nice": false, "zero": false}, "axis": null},
  "y2": {"datum": 0},
  "color": {"condition": {"test": "datum.c > datum.o", "value": "#FF0000"}, "value": "#0000FF"}
 }},
{"data": {"name": "k"},
 "layer": [
 {"mark": {"type": "rule", "strokeWidth": 1.5},
  "encoding": {
   "x": {"field": "t", "type": "temporal", "axis": null},
   "y": {"field": "l", "type": "quantitative", "scale": {"domain": [37731, 40874], "nice": false, "zero": false}, "axis": null},
   "y2": {"field": "h"},
   "color": {"condition": {"test": "datum.c > datum.o", "value": "#FF0000"}, "value": "#0000FF"}
  }},
 {"mark": {"type": "bar", "width": 2, "strokeWidth": 1},
  "encoding": {
   "x": {"field": "t", "type": "temporal", "axis": null},
   "y": {"field": "o", "type": "quantitative", "axis": null},
   "y2": {"field": "c"},
   "fill": {"condition": {"test": "datum.c > datum.o", "value": "#FF0000"}, "value": "#0000FF"},
   "stroke": {"condition": {"test": "datum.c > datum.o", "value": "#FF0000"}, "value": "#0000FF"}
  }}
 ]},
{"data": {"values": [{}]},
 "layer": [
 {"mark": {"type": "bar", "width": 4, "fill": "#FFFFFF", "stroke": "#444444", "strokeWidth": 1},
  "encoding": {
   "x": {"datum": {"year":2022,"month":1,"date":27,"hours":9,"minutes":0,"seconds":14}, "type": "temporal", "axis": null},
   "y": {"datum": 40088, "type": "quantitative", "scale": {"domain": [37731, 40874], "nice": false, "zero": false}, "axis": null},
   "y2": {"datum": 38517}
  }},
 {"mark": {"type": "bar", "width": 4, "fill": "#FFFFFF", "stroke": "#444444", "strokeWidth": 1},
  "encoding": {
   "x": {"datum": {"year":2022,"month":1,"date":27,"hours":15,"minutes":30,"seconds":22}, "type": "temporal", "axis": null},
   "y": {"datum": 40088, "type": "quantitative"},
   "y2": {"datum": 38517}
  }}
 ]}
],
"resolve": {"scale": {"y": "independent"}, "axis": {"y": "independent"}}
}
]
}
